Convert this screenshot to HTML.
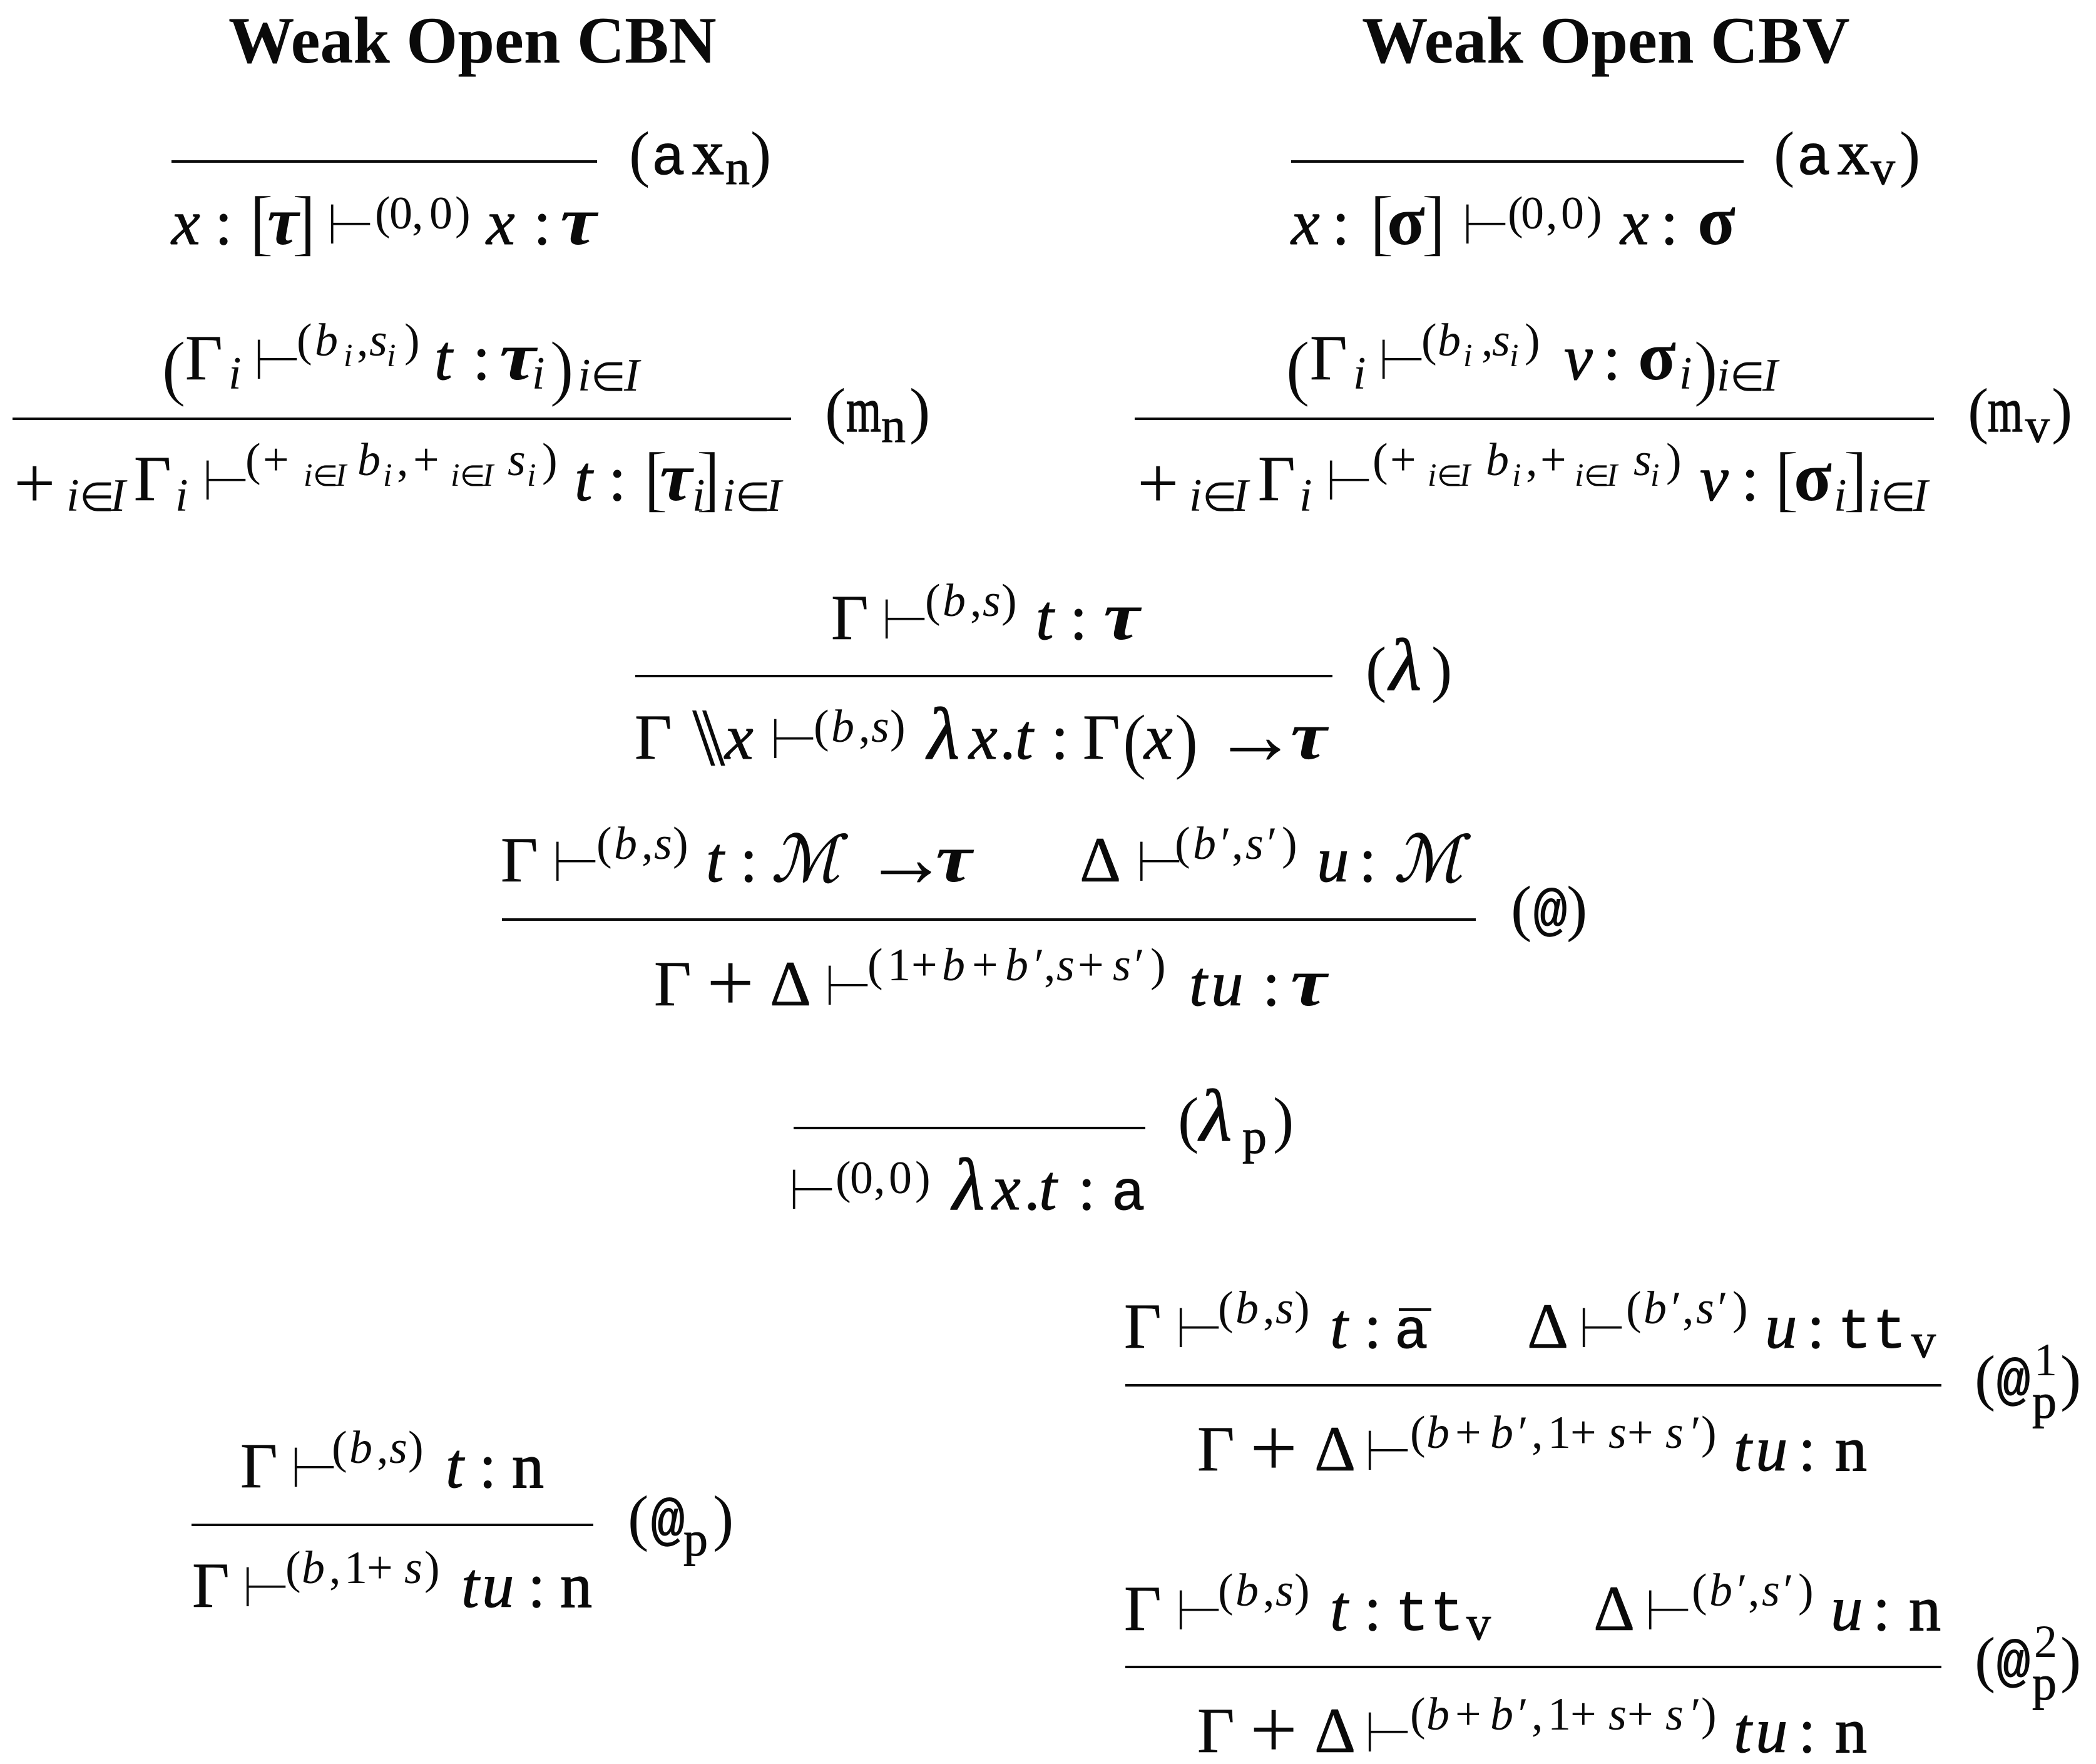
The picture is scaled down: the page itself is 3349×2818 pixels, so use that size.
<!DOCTYPE html>
<html><head><meta charset="utf-8"><style>
html,body{margin:0;padding:0;background:#fff}
svg{display:block}
text{fill:#0a0a0a;font-family:"Liberation Serif",serif;white-space:pre}
.h{font-weight:bold;font-size:105.5px}
.m{font-style:italic;font-size:103px;stroke:#0a0a0a;stroke-width:1px}
.y{font-style:italic;font-weight:bold;font-size:110px}
.l{font-style:italic;font-size:118px;stroke:#0a0a0a;stroke-width:1.5px}
.r{font-size:103px;stroke:#0a0a0a;stroke-width:.6px}
.P{font-size:118px}
.B{font-size:135px}
.A{font-size:135px}
.R{font-size:118px;stroke:#fff;stroke-width:1.5px}
.g{font-size:112px;font-weight:bold}
.a{font-style:italic;font-size:74px}
.b{font-size:74px}
.c{font-style:italic;font-size:52px}
.e{font-size:46px}
.f{font-size:64px}
.t{font-family:"Liberation Mono",monospace;font-size:90px;stroke:#0a0a0a;stroke-width:1px}
.n{font-size:102px;stroke:#0a0a0a;stroke-width:1.5px}
.o{font-size:78px;stroke:#0a0a0a;stroke-width:1px}
.d{font-family:"DejaVu Sans",sans-serif;font-size:92px;stroke:#fff;stroke-width:2px}
.k{font-size:132px}
.p{font-size:100px}
line{stroke:#0a0a0a;stroke-width:4}
</style></head><body>
<svg xmlns="http://www.w3.org/2000/svg" width="3349" height="2818" viewBox="0 0 3349 2818">
<rect width="3349" height="2818" fill="#fff"/>
<text class="h" x="365" y="100">Weak Open CBN</text>
<text class="h" x="2176" y="100">Weak Open CBV</text>

<!-- ax_n -->
<line x1="274" y1="258" x2="954" y2="258"/>
<text class="p" x="1005 1199" y="279">()</text>
<text class="t" x="1041" y="278">a</text><text class="n" x="1106" y="278">x</text><text class="o" x="1159" y="294">n</text>
<text class="m" x="274 777" y="390">xx</text><text class="r" x="343 852" y="390">::</text>
<text class="R" x="398 466" y="394">[]</text><text class="y" x="427" y="390" textLength="50" lengthAdjust="spacingAndGlyphs">τ</text><text class="y" x="895" y="390" textLength="58" lengthAdjust="spacingAndGlyphs">τ</text>
<text class="d" x="520" y="390">⊢</text>
<text class="b" x="599 622 658 686 727" y="365">(0,0)</text>

<!-- m_n -->
<text class="R" x="258 878" y="626">()</text>
<text class="r" x="296" y="606">Γ</text><text class="a" x="365" y="621">i</text>
<text class="d" x="403" y="606">⊢</text>
<text class="b" x="474 570 646" y="568">(,)</text><text class="a" x="503 590" y="568">bs</text><text class="c" x="549 618" y="585">ii</text>
<text class="m" x="694" y="606">t</text><text class="y" x="798" y="606" textLength="58" lengthAdjust="spacingAndGlyphs">τ</text><text class="r" x="755" y="606">:</text><text class="a" x="850" y="621">i</text>
<text class="a" x="923 997" y="624">iI</text><text class="f" x="944" y="624">∈</text>
<line x1="20" y1="669" x2="1264" y2="669"/>
<text class="r" x="214 972" y="799">Γ:</text><text class="P" x="22" y="811">+</text><text class="a" x="106 176 280" y="816">iIi</text><text class="f" x="127" y="816">∈</text>
<text class="d" x="321" y="799">⊢</text>
<text class="b" x="392 634 866" y="759">(,)</text><text class="b" x="420 660" y="759">++</text>
<text class="c" x="485 536 612 720 771 842" y="776">iIiiIi</text><text class="e" x="500 735" y="776">∈∈</text>
<text class="a" x="571 811" y="759">bs</text>
<text class="m" x="918" y="799">t</text><text class="y" x="1054" y="799" textLength="52" lengthAdjust="spacingAndGlyphs">τ</text><text class="R" x="1028 1112" y="803">[]</text><text class="a" x="1106 1154 1224" y="816">iiI</text><text class="f" x="1175" y="816">∈</text>
<text class="p" x="1318 1453" y="689">()</text><text class="n" x="1352" y="689" textLength="56" lengthAdjust="spacingAndGlyphs">m</text><text class="o" x="1408" y="706">n</text>

<!-- ax_v -->
<line x1="2063" y1="258" x2="2786" y2="258"/>
<text class="p" x="2834 3035" y="279">()</text>
<text class="t" x="2871" y="278">a</text><text class="n" x="2936" y="278">x</text><text class="o" x="2989" y="294">v</text>
<text class="m" x="2063 2589" y="390">xx</text><text class="r" x="2128 2653" y="390">::</text>
<text class="R" x="2188 2271" y="394">[]</text><text class="g" x="2216 2712" y="390">σσ</text>
<text class="d" x="2334" y="390">⊢</text>
<text class="b" x="2409 2430 2470 2494 2535" y="365">(0,0)</text>

<!-- m_v -->
<text class="R" x="2054 2706" y="626">()</text>
<text class="r" x="2093" y="606">Γ</text><text class="a" x="2162" y="621">i</text>
<text class="d" x="2200" y="606">⊢</text>
<text class="b" x="2271 2367 2436" y="568">(,)</text><text class="a" x="2297 2384" y="568">bs</text><text class="c" x="2338 2412" y="585">ii</text>
<text class="m" x="2499" y="606">v</text><text class="r" x="2561" y="606">:</text><text class="g" x="2617" y="606">σ</text><text class="a" x="2683" y="621">i</text>
<text class="a" x="2743 2816" y="624">iI</text><text class="f" x="2764" y="624">∈</text>
<line x1="1813" y1="669" x2="3090" y2="669"/>
<text class="r" x="2010 2782" y="799">Γ:</text><text class="P" x="1817" y="811">+</text><text class="a" x="1900 1970 2076" y="816">iIi</text><text class="f" x="1921" y="816">∈</text>
<text class="d" x="2116" y="799">⊢</text>
<text class="b" x="2193 2438 2662" y="759">(,)</text><text class="b" x="2221 2461" y="759">++</text>
<text class="c" x="2281 2332 2416 2516 2567 2637" y="776">iIiiIi</text><text class="e" x="2296 2531" y="776">∈∈</text>
<text class="a" x="2374 2610" y="759">bs</text>
<text class="m" x="2716" y="799">v</text><text class="g" x="2866" y="799">σ</text><text class="R" x="2835 2945" y="803">[]</text><text class="a" x="2930 2984 3056" y="816">iiI</text><text class="f" x="3005" y="816">∈</text>
<text class="p" x="3144 3278" y="689">()</text><text class="n" x="3176" y="689" textLength="56" lengthAdjust="spacingAndGlyphs">m</text><text class="o" x="3236" y="706">v</text>

<!-- lambda -->
<text class="r" x="1328 1709" y="1021">Γ:</text><text class="d" x="1406" y="1021">⊢</text>
<text class="b" x="1478 1550 1600" y="984">(,)</text><text class="a" x="1506 1570" y="984">bs</text>
<text class="m" x="1655" y="1021">t</text><text class="y" x="1763" y="1021" textLength="58" lengthAdjust="spacingAndGlyphs">τ</text>
<line x1="1015" y1="1080" x2="2129" y2="1080"/>
<text class="r" x="1014 1679 1730" y="1212">Γ:Γ</text><text class="A" x="1938" y="1220">→</text>
<text class="k" x="1106 1122" y="1222">\\</text>
<text class="m" x="1158 1548 1622 1828" y="1212">xxtx</text><text class="l" x="1482" y="1212">λ</text><text class="y" x="2062" y="1212" textLength="58" lengthAdjust="spacingAndGlyphs">τ</text><text class="r" x="1597" y="1212">.</text>
<text class="R" x="1793 1876" y="1222">()</text>
<text class="d" x="1228" y="1212">⊢</text>
<text class="b" x="1300 1372 1422" y="1185">(,)</text><text class="a" x="1328 1392" y="1185">bs</text>
<text class="p" x="2182 2287" y="1102">()</text><text class="l" x="2220" y="1102">λ</text>

<!-- app -->
<text class="r" x="800 1182 1725 2171" y="1408">Γ:Δ:</text><text class="A" x="1380" y="1416">→</text><text class="d" x="880" y="1408">⊢</text><text class="d" x="1813" y="1408">⊢</text>
<text class="b" x="953 1025 1075 1877 1968 2048" y="1372">(,)(,)</text><text class="a" x="981 1045 1906 1946 1990 2020" y="1372">bsb′s′</text>
<text class="m" x="1128 1232 2104 2227" y="1408">tℳuℳ</text><text class="y" x="1495" y="1408" textLength="58" lengthAdjust="spacingAndGlyphs">τ</text>
<line x1="802" y1="1469" x2="2358" y2="1469"/>
<text class="r" x="1045 1230 2017" y="1606">ΓΔ:</text><text class="B" x="1129" y="1615">+</text><text class="d" x="1315" y="1606">⊢</text>
<text class="b" x="1386 1418 1456 1553 1668 1722 1838" y="1566">(1++,+)</text><text class="a" x="1505 1606 1648 1688 1778 1808" y="1566">bb′ss′</text>
<text class="m" x="1900 1935" y="1606">tu</text><text class="y" x="2062" y="1606" textLength="58" lengthAdjust="spacingAndGlyphs">τ</text>
<text class="p" x="2414 2503" y="1484">()</text><text class="t" x="2450" y="1484">@</text>

<!-- lambda_p -->
<line x1="1268" y1="1802" x2="1830" y2="1802"/>
<text class="d" x="1258" y="1932">⊢</text>
<text class="b" x="1335 1358 1396 1420 1462" y="1906">(0,0)</text>
<text class="m" x="1585 1660" y="1932">xt</text><text class="l" x="1522" y="1932">λ</text><text class="r" x="1636 1722" y="1932">.:</text><text class="t" x="1776" y="1932">a</text>
<text class="p" x="1882 2034" y="1822">()</text><text class="l" x="1917" y="1822">λ</text><text class="o" x="1985" y="1842">p</text>

<!-- app_p -->
<text class="r" x="384 765" y="2376">Γ:</text><text class="d" x="462" y="2376">⊢</text>
<text class="b" x="530 602 652" y="2337">(,)</text><text class="a" x="558 622" y="2337">bs</text>
<text class="m" x="712" y="2376">t</text><text class="n" x="818" y="2376">n</text>
<line x1="306" y1="2436" x2="948" y2="2436"/>
<text class="r" x="307 843" y="2567">Γ:</text><text class="d" x="385" y="2567">⊢</text>
<text class="b" x="456 526 550 586 678" y="2529">(,1+)</text><text class="a" x="482 646" y="2529">bs</text>
<text class="m" x="737 770" y="2567">tu</text><text class="n" x="895" y="2567">n</text>
<text class="p" x="1003 1139" y="2458">()</text><text class="t" x="1040" y="2458">@</text><text class="o" x="1092" y="2485">p</text>

<!-- app_p1 -->
<text class="r" x="1796 2179 2440 2887" y="2153">Γ:Δ:</text><text class="d" x="1876" y="2153">⊢</text><text class="d" x="2520" y="2153">⊢</text>
<text class="b" x="1946 2018 2068 2598 2688 2768" y="2114">(,)(,)</text><text class="a" x="1974 2038 2626 2666 2710 2740" y="2114">bsb′s′</text>
<text class="m" x="2125 2820" y="2153">tu</text><text class="t" x="2228 2936 2992" y="2153">att</text><text class="o" x="3054" y="2168">v</text>
<line x1="2235" y1="2092" x2="2287" y2="2092"/>
<line x1="1798" y1="2213" x2="3102" y2="2213"/>
<text class="r" x="1913 2100 2873" y="2349">ΓΔ:</text><text class="B" x="1997" y="2358">+</text><text class="d" x="2178" y="2349">⊢</text>
<text class="b" x="2253 2325 2447 2473 2509 2600 2718" y="2313">(+,1++)</text><text class="a" x="2279 2381 2421 2570 2661 2697" y="2313">bb′ss′</text>
<text class="m" x="2770 2805" y="2349">tu</text><text class="n" x="2932" y="2349">n</text>
<text class="p" x="3155 3292" y="2234">()</text><text class="t" x="3190" y="2234">@</text><text class="b" x="3250" y="2197">1</text><text class="o" x="3247" y="2265">p</text>

<!-- app_p2 -->
<text class="r" x="1796 2179 2546 2992" y="2604">Γ:Δ:</text><text class="d" x="1876" y="2604">⊢</text><text class="d" x="2626" y="2604">⊢</text>
<text class="b" x="1946 2018 2068 2703 2793 2873" y="2565">(,)(,)</text><text class="a" x="1974 2038 2731 2771 2815 2845" y="2565">bsb′s′</text>
<text class="m" x="2125 2925" y="2604">tu</text><text class="t" x="2229 2285" y="2604">tt</text><text class="n" x="3050" y="2604">n</text><text class="o" x="2343" y="2619">v</text>
<line x1="1798" y1="2663" x2="3102" y2="2663"/>
<text class="r" x="1913 2100 2873" y="2799">ΓΔ:</text><text class="B" x="1997" y="2808">+</text><text class="d" x="2178" y="2799">⊢</text>
<text class="b" x="2253 2325 2447 2473 2509 2600 2718" y="2763">(+,1++)</text><text class="a" x="2279 2381 2421 2570 2661 2697" y="2763">bb′ss′</text>
<text class="m" x="2770 2805" y="2799">tu</text><text class="n" x="2932" y="2799">n</text>
<text class="p" x="3155 3292" y="2684">()</text><text class="t" x="3190" y="2684">@</text><text class="b" x="3250" y="2647">2</text><text class="o" x="3247" y="2715">p</text>
</svg>
</body></html>
